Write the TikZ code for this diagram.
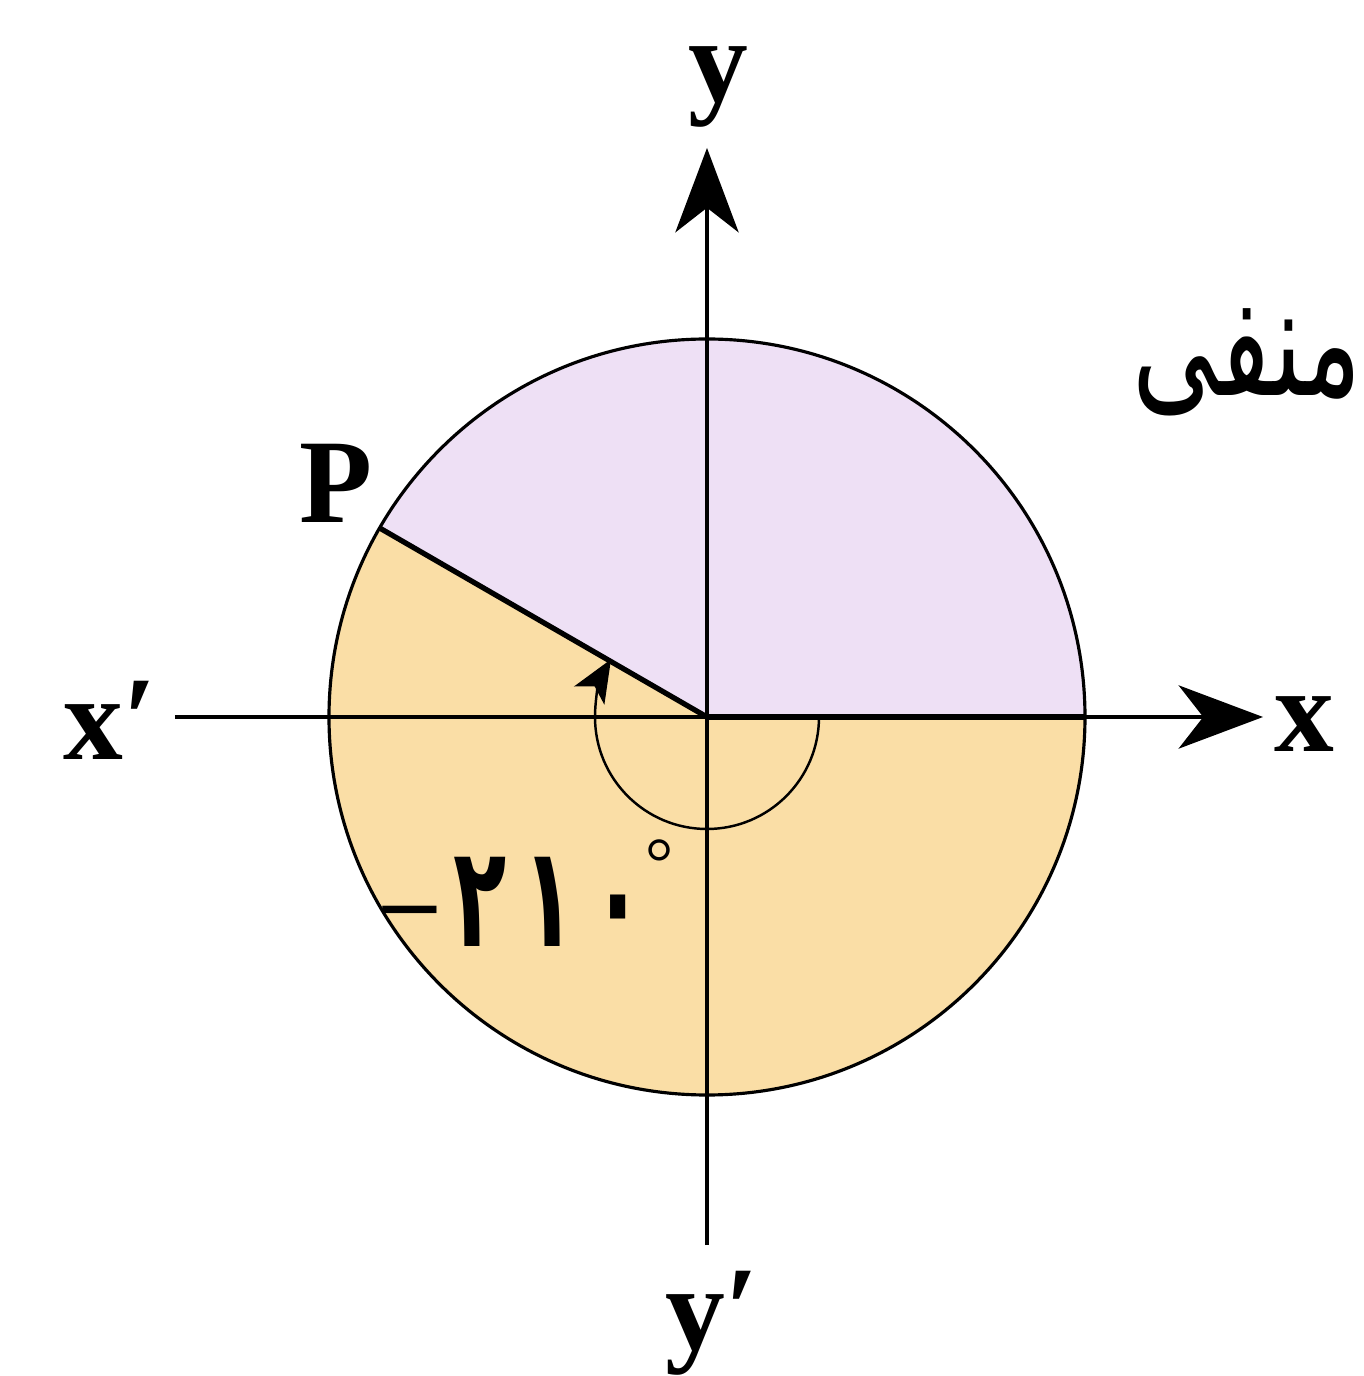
\documentclass[tikz,border=0pt]{standalone}
\usepackage{fontspec}
\usepackage{graphicx}
\setmainfont{Liberation Serif}
\newfontfamily\arabicfont[Script=Arabic]{DejaVu Sans}
\TeXXeTstate=1
\usetikzlibrary{arrows.meta}
\definecolor{lav}{RGB}{238,224,245}
\definecolor{sand}{RGB}{250,222,166}
\tikzset{
  axis/.style={line width=0.9pt, -{Stealth[length=24pt,width=18pt,inset=7pt]}},
  thin/.style={line width=0.9pt},
  thickside/.style={line width=1.5pt},
  lbl/.style={font=\fontsize{34}{40}\selectfont\bfseries, inner sep=0pt},
}
\begin{document}
\begin{tikzpicture}[x=0.01cm,y=0.01cm]
\useasboundingbox (-707,-659) rectangle (656,717);
\coordinate (O) at (0,0);
\coordinate (A) at (0:378);
\coordinate (P) at (150:378);
\coordinate (xs) at (-532,0);
\coordinate (xe) at (556,0);
\coordinate (ys) at (0,-528);
\coordinate (ye) at (0,569);
\coordinate (a0) at (0:112);
% fills
\fill[lav] (O) -- (A) arc[start angle=0,end angle=150,radius=378] -- cycle;
\fill[sand] (O) -- (A) arc[start angle=0,end angle=-210,radius=378] -- cycle;
% circle
\draw[thin] (O) circle[radius=378];
% axes
\draw[axis] (xs) -- (xe);
\draw[axis] (ys) -- (ye);
% sides
\draw[thickside] (O) -- (A);
\draw[thickside] (O) -- (P);
% angle arc
\draw[line width=0.7pt, -{Stealth[length=12pt,width=10pt,inset=3pt]}] (a0) arc[start angle=0,end angle=-211,radius=112];
% labels
\node[lbl] (ly) at (11,630) {y};
\node[lbl] (lx) at (597,-7) {x};
\node[lbl] (lxp) at (-597,-3) {x′};
\node[lbl] (lyp) at (5,-606) {y′};
\node[lbl] (lP) at (-371,234) {P};
\node[inner sep=0pt] (neg) at (540,355) {\scalebox{0.68}[1]{\arabicfont\fontsize{44}{50}\selectfont\beginR منفی\endR}};
\node[inner sep=0pt, font=\fontsize{30}{36}\selectfont\bfseries] (minus) at (-297,-203) {–};
\node[inner sep=0pt] (ang) at (-158,-185) {\scalebox{0.62}[1]{\arabicfont\bfseries\addfontfeature{LetterSpace=18}\fontsize{40}{46}\selectfont ۲۱۰}};
\node[inner sep=0pt, font=\fontsize{20}{24}\selectfont] (deg) at (-47,-146) {°};
\end{tikzpicture}
\end{document}
